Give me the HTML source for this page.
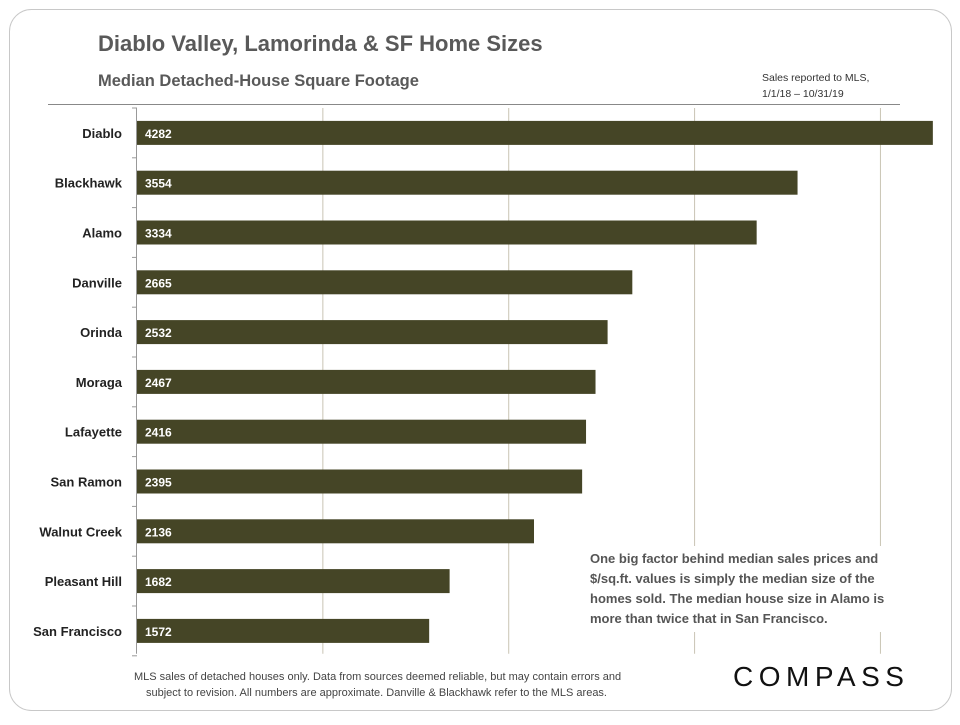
<!DOCTYPE html>
<html><head><meta charset="utf-8"><style>
body{margin:0;background:#fff;width:960px;height:720px;overflow:hidden;font-family:"Liberation Sans",sans-serif}
svg text{font-family:"Liberation Sans",sans-serif}
</style></head><body>
<svg id="c" width="960" height="720">
<rect x="9.5" y="9.5" width="942" height="701" rx="22" fill="#fff" stroke="#c8c8c8"/>
<text x="98" y="51" font-size="22" font-weight="bold" fill="#595959">Diablo Valley, Lamorinda &amp; SF Home Sizes</text>
<text x="98" y="86" font-size="16.5" font-weight="bold" fill="#595959">Median Detached-House Square Footage</text>
<text x="762" y="81" font-size="10.5" fill="#333">Sales reported to MLS,</text>
<text x="762" y="97" font-size="10.5" fill="#333">1/1/18 – 10/31/19</text>
<line x1="48" y1="104.5" x2="900" y2="104.5" stroke="#888"/>
<g id="grid"></g><g id="bars"></g>
<rect x="584" y="546" width="322" height="86" fill="#fff"/>
<text font-size="13" font-weight="bold" fill="#555">
<tspan x="590" y="563">One big factor behind median sales prices and</tspan>
<tspan x="590" y="583">$/sq.ft. values is simply the median size of the</tspan>
<tspan x="590" y="603">homes sold. The median house size in Alamo is</tspan>
<tspan x="590" y="623">more than twice that in San Francisco.</tspan></text>
<text font-size="11" fill="#444">
<tspan x="134" y="680">MLS sales of detached houses only. Data from sources deemed reliable, but may contain errors and</tspan>
<tspan x="146" y="696">subject to revision. All numbers are approximate. Danville  &amp; Blackhawk  refer to the MLS areas.</tspan></text>
<text x="733" y="686" font-size="28" fill="#111" letter-spacing="5.5">COMPASS</text>
</svg>
<script>
const categories=["Diablo","Blackhawk","Alamo","Danville","Orinda","Moraga","Lafayette","San Ramon","Walnut Creek","Pleasant Hill","San Francisco"];
const values=[4282,3554,3334,2665,2532,2467,2416,2395,2136,1682,1572];
const gridTicks=[1000,2000,3000,4000];
const NS="http://www.w3.org/2000/svg";
const x0=137,pxPer=0.18586,yTop=108,step=49.8,barH=24;
const xs=v=>x0+v*pxPer;
const ys=i=>yTop+i*step;
function mk(t,a,p){const e=document.createElementNS(NS,t);for(const k in a)e.setAttribute(k,a[k]);p.appendChild(e);return e;}
const g=document.getElementById('grid'),b=document.getElementById('bars');
const yEnd=ys(categories.length)-2;
gridTicks.forEach(t=>{const l=mk('line',{x1:xs(t),x2:xs(t),y1:yTop,y2:yEnd,stroke:'#c9c4b4'},g);

});
const ax=mk('line',{x1:x0-0.5,x2:x0-0.5,y1:yTop,y2:yEnd,stroke:'#999'},g);


for(let i=0;i<=categories.length;i++){const t=mk('line',{x1:x0-5,x2:x0,y1:ys(i),y2:ys(i),stroke:'#999'},g);

}
categories.forEach((c,i)=>{const cy=ys(i)+step/2;
const r=mk('rect',{x:x0,y:cy-barH/2,width:xs(values[i])-x0,height:barH,fill:'#454526'},b);


const v=mk('text',{x:x0+8,y:cy+5,'font-size':12,'font-weight':'bold',fill:'#fff'},b);v.textContent=values[i];


const l=mk('text',{x:122,y:cy+5,'font-size':13,'font-weight':'bold',fill:'#222','text-anchor':'end'},b);l.textContent=c;

});
</script>
</body></html>
